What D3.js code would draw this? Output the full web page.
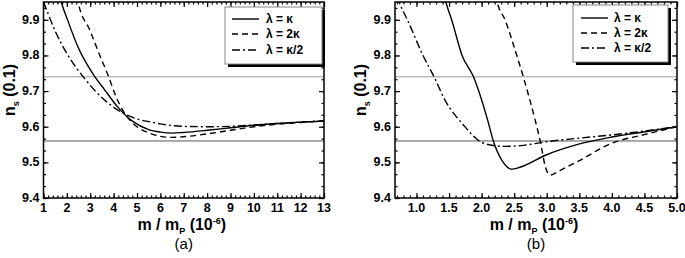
<!DOCTYPE html>
<html>
<head>
<meta charset="utf-8">
<script src="https://cdn.jsdelivr.net/npm/d3@7"></script>
<style>
  body { margin: 0; background: #fff; }
  svg { display: block; font-family: "Liberation Sans", Arial, sans-serif; }
</style>
</head>
<body>
<div id="container"></div>
<script>
// ---- data ----
// panel (a): n_s (units of 0.1) vs m / m_P (10^-6)
const aKappa = [[1.70,9.965],[1.76,9.95],[2.0,9.905],[2.5,9.82],[3.0,9.76],[3.2,9.74],[3.6,9.705],[4.18,9.655],[4.82,9.615],[5.5,9.592],[6,9.585],[6.5,9.582],[7,9.584],[8,9.59],[9,9.597],[10,9.604],[11,9.609],[12,9.613],[13,9.616]];
const a2Kappa = [[2.44,9.965],[2.48,9.95],[2.99,9.87],[3.41,9.80],[3.76,9.745],[4.1,9.685],[4.4,9.645],[4.7,9.618],[5.0,9.60],[5.5,9.583],[6,9.573],[6.5,9.570],[7,9.572],[8,9.58],[9,9.59],[10,9.60],[11,9.607],[12,9.612],[13,9.616]];
const aHalfKappa = [[1,9.95],[1.06,9.94],[1.49,9.87],[2.05,9.80],[2.7,9.74],[3.63,9.674],[4.2,9.646],[4.9,9.624],[5.6,9.613],[6,9.608],[7,9.601],[8,9.60],[9,9.601],[10,9.605],[11,9.609],[12,9.613],[13,9.616]];

// panel (b)
const bKappa = [[1.42,9.97],[1.45,9.95],[1.54,9.90],[1.70,9.80],[1.875,9.74],[2.09,9.62],[2.18,9.56],[2.31,9.506],[2.46,9.481],[2.6,9.487],[2.98,9.52],[3.49,9.551],[4.0,9.571],[4.51,9.586],[5.0,9.60]];
const b2Kappa = [[2.22,9.97],[2.24,9.95],[2.36,9.90],[2.54,9.80],[2.64,9.74],[2.82,9.62],[2.9,9.56],[2.98,9.487],[3.05,9.464],[3.2,9.477],[3.49,9.504],[4.0,9.554],[4.5,9.578],[5.0,9.60]];
const bHalfKappa = [[0.70,9.965],[0.755,9.94],[0.86,9.90],[1.1,9.80],[1.27,9.74],[1.44,9.674],[1.72,9.605],[1.95,9.562],[2.1,9.55],[2.35,9.545],[2.6,9.547],[3.0,9.558],[3.5,9.568],[4.0,9.577],[4.5,9.588],[5.0,9.60]];

const refLines = [9.74, 9.56];
const legendLabels = ["λ = κ", "λ = 2κ", "λ = κ/2"];
const yTicks = [9.4, 9.5, 9.6, 9.7, 9.8, 9.9];
const xTicksA = [1,2,3,4,5,6,7,8,9,10,11,12,13];
const xTicksB = [1.0,1.5,2.0,2.5,3.0,3.5,4.0,4.5,5.0];

const width = 685, height = 258;
const dashes = [null, "6,4", "8,3,2,3"];

const svg = d3.select("#container").append("svg")
  .attr("width", width).attr("height", height);

const panels = [
  { id: "a", left: 43.5, right: 324, xDomain: [1, 13], xTicks: xTicksA, xMinor: 0.2, fmt: d3.format("d"),
    series: [aKappa, a2Kappa, aHalfKappa], legend: { x: 225, y: 7, w: 97, h: 57, lx: 232, tx: 266, rows: [19, 34, 50] }, tag: "(a)" },
  { id: "b", left: 395, right: 677, xDomain: [0.67, 5.0], xTicks: xTicksB, xMinor: 0.1, fmt: d3.format(".1f"),
    series: [bKappa, b2Kappa, bHalfKappa], legend: { x: 573, y: 5, w: 95, h: 57, lx: 581, tx: 614, rows: [18, 33, 48] }, tag: "(b)" }
];

const plotTop = 2, plotBottom = 198;

panels.forEach(p => {
  const x = d3.scaleLinear().domain(p.xDomain).range([p.left, p.right]);
  const y = d3.scaleLinear().domain([9.4, 9.95]).range([plotBottom, plotTop]);
  const g = svg.append("g");

  g.append("clipPath").attr("id", "clip-" + p.id)
    .append("rect").attr("x", p.left).attr("y", plotTop)
    .attr("width", p.right - p.left).attr("height", plotBottom - plotTop);

  // reference lines
  g.selectAll("line.ref").data(refLines).join("line")
    .attr("class", "ref")
    .attr("x1", p.left).attr("x2", p.right)
    .attr("y1", d => y(d)).attr("y2", d => y(d))
    .attr("stroke", (d, i) => i === 0 ? "#9a9a9a" : "#555")
    .attr("stroke-width", 1);

  // curves
  const line = d3.line().x(d => x(d[0])).y(d => y(d[1])).curve(d3.curveMonotoneX);
  g.append("g").attr("clip-path", `url(#clip-${p.id})`)
    .selectAll("path").data(p.series).join("path")
    .attr("d", line)
    .attr("fill", "none")
    .attr("stroke", "#000")
    .attr("stroke-width", 1.4)
    .attr("stroke-dasharray", (d, i) => dashes[i]);

  // axes: ticks inward on all four sides
  const xMinorTicks = d3.range(p.xDomain[0], p.xDomain[1] + 1e-9, p.xMinor)
    .map(v => Math.round(v / p.xMinor) * p.xMinor)
    .filter(v => v >= p.xDomain[0] - 1e-9 && v <= p.xDomain[1] + 1e-9);
  const yMinorTicks = d3.range(9.4, 9.95, 0.1 / 3);

  const addAxis = (axis, tr) => {
    const ag = g.append("g").attr("transform", tr).call(axis);
    ag.select(".domain").remove();
    ag.selectAll("line").attr("stroke", "#000").attr("stroke-width", 1.2);
    return ag;
  };

  // minor
  addAxis(d3.axisTop(x).tickValues(xMinorTicks).tickSize(2.5).tickFormat(""), `translate(0,${plotBottom})`);
  addAxis(d3.axisBottom(x).tickValues(xMinorTicks).tickSize(2.5).tickFormat(""), `translate(0,${plotTop})`);
  addAxis(d3.axisRight(y).tickValues(yMinorTicks).tickSize(2.5).tickFormat(""), `translate(${p.left},0)`);
  addAxis(d3.axisLeft(y).tickValues(yMinorTicks).tickSize(2.5).tickFormat(""), `translate(${p.right},0)`);
  // major
  addAxis(d3.axisTop(x).tickValues(p.xTicks).tickSize(5).tickFormat(""), `translate(0,${plotBottom})`);
  addAxis(d3.axisBottom(x).tickValues(p.xTicks).tickSize(5).tickFormat(""), `translate(0,${plotTop})`);
  addAxis(d3.axisRight(y).tickValues(yTicks).tickSize(5).tickFormat(""), `translate(${p.left},0)`);
  addAxis(d3.axisLeft(y).tickValues(yTicks).tickSize(5).tickFormat(""), `translate(${p.right},0)`);

  // tick labels
  g.selectAll("text.xt").data(p.xTicks).join("text")
    .attr("class", "xt")
    .attr("x", d => x(d)).attr("y", 212)
    .attr("text-anchor", "middle")
    .attr("font-size", 12.5).attr("font-weight", "bold")
    .text(p.fmt);
  g.selectAll("text.yt").data(yTicks).join("text")
    .attr("class", "yt")
    .attr("x", p.left - 4).attr("y", d => y(d) + 4)
    .attr("text-anchor", "end")
    .attr("font-size", 12.5).attr("font-weight", "bold")
    .text(d3.format(".1f"));

  // frame
  g.append("rect")
    .attr("x", p.left).attr("y", plotTop)
    .attr("width", p.right - p.left).attr("height", plotBottom - plotTop)
    .attr("fill", "none").attr("stroke", "#000").attr("stroke-width", 1.5);

  // legend with drop shadow
  const L = p.legend;
  g.append("rect").attr("x", L.x + 3).attr("y", L.y + 3).attr("width", L.w).attr("height", L.h).attr("fill", "#000");
  g.append("rect").attr("x", L.x).attr("y", L.y).attr("width", L.w).attr("height", L.h)
    .attr("fill", "#fff").attr("stroke", "#888").attr("stroke-width", 1);
  const rows = g.selectAll("g.leg").data(legendLabels).join("g").attr("class", "leg");
  rows.append("line")
    .attr("x1", L.lx).attr("x2", L.lx + 27)
    .attr("y1", (d, i) => L.rows[i]).attr("y2", (d, i) => L.rows[i])
    .attr("stroke", "#000").attr("stroke-width", 1.4)
    .attr("stroke-dasharray", (d, i) => dashes[i]);
  rows.append("text")
    .attr("x", L.tx).attr("y", (d, i) => L.rows[i] + 4)
    .attr("font-size", 12).attr("font-weight", "bold")
    .text(d => d);

  // axis titles
  const cx = (p.left + p.right) / 2;
  const xt = g.append("text").attr("x", cx - 2).attr("y", 230)
    .attr("text-anchor", "middle").attr("font-size", 16).attr("font-weight", "bold");
  xt.append("tspan").text("m / m");
  xt.append("tspan").attr("font-size", 9).attr("dy", 4).text("P");
  xt.append("tspan").attr("dy", -4).text(" (10");
  xt.append("tspan").attr("font-size", 9).attr("dy", -6).text("-6");
  xt.append("tspan").attr("dy", 6).text(")");

  const yt = g.append("text")
    .attr("transform", `translate(${p.left - 29},90) rotate(-90)`)
    .attr("text-anchor", "middle").attr("font-size", 16).attr("font-weight", "bold");
  yt.append("tspan").text("n");
  yt.append("tspan").attr("font-size", 9).attr("dy", 4).text("s");
  yt.append("tspan").attr("dy", -4).text(" (0.1)");

  g.append("text").attr("x", cx).attr("y", 249)
    .attr("text-anchor", "middle").attr("font-size", 15)
    .text(p.tag);
});
</script>
</body>
</html>
